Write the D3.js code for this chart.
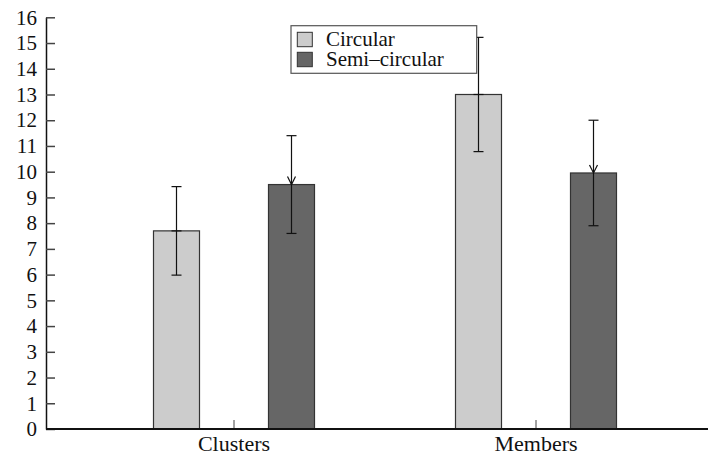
<!DOCTYPE html>
<html>
<head>
<meta charset="utf-8">
<script src="https://cdn.jsdelivr.net/npm/d3@7"></script>
</head>
<body style="margin:0; background:#fff">
<svg id="chart" width="708" height="458"></svg>
<script>
var categories = ["Clusters", "Members"];
var series = ["Circular", "Semi\u2013circular"];
var circularValues = [7.7, 13.0];
var semiValues = [9.5, 9.95];
var circularErrors = [1.72, 2.22];
var semiErrors = [1.9, 2.05];
var yTicks = d3.range(0, 17);
var colors = ["#cccccc", "#666666"];

var WIDTH = 708, HEIGHT = 458, FONT = "Liberation Serif",
    MARGINS = { top: 17.3, right: 0, bottom: 29, left: 46 };

var vis = d3.select("#chart");

var xScale = d3.scaleBand().domain(categories).range([83, 687]);
var subScale = d3.scalePoint().domain(series).range([-57.5, 57.5]);
var yScale = d3.scaleLinear().domain([0, 16]).range([HEIGHT - MARGINS.bottom, MARGINS.top]);
var barW = 46;

var data = [];
categories.forEach(function(c, i) {
    data.push({ cat: c, s: series[0], v: circularValues[i], e: circularErrors[i], k: 0 });
    data.push({ cat: c, s: series[1], v: semiValues[i], e: semiErrors[i], k: 1 });
});
function cx(d) { return xScale(d.cat) + xScale.bandwidth() / 2 + subScale(d.s); }

// bars
vis.selectAll(".bar")
   .data(data)
   .enter().append("rect")
   .attr("x", function(d) { return cx(d) - barW / 2; })
   .attr("y", function(d) { return yScale(d.v); })
   .attr("width", barW)
   .attr("height", function(d) { return yScale(0) - yScale(d.v); })
   .attr("fill", function(d) { return colors[d.k]; })
   .attr("stroke", "#333")
   .attr("stroke-width", 1.2);

// error bars
var eb = vis.selectAll(".err").data(data).enter().append("g")
   .attr("stroke", "#111").attr("stroke-width", 1.2).attr("fill", "none");
eb.append("line")
  .attr("x1", cx).attr("x2", cx)
  .attr("y1", function(d) { return yScale(d.v + d.e); })
  .attr("y2", function(d) { return yScale(d.v - d.e); });
eb.append("line")
  .attr("x1", function(d) { return cx(d) - 5; }).attr("x2", function(d) { return cx(d) + 5; })
  .attr("y1", function(d) { return yScale(d.v + d.e); })
  .attr("y2", function(d) { return yScale(d.v + d.e); });
eb.append("line")
  .attr("x1", function(d) { return cx(d) - 5; }).attr("x2", function(d) { return cx(d) + 5; })
  .attr("y1", function(d) { return yScale(d.v - d.e); })
  .attr("y2", function(d) { return yScale(d.v - d.e); });
eb.append("path")
  .attr("d", function(d) {
      var x = cx(d), y = yScale(d.v);
      if (d.k === 1) return "M" + (x - 4) + "," + (y - 8) + "L" + x + "," + y + "L" + (x + 4) + "," + (y - 8);
      return "M" + (x - 5) + "," + y + "L" + (x + 5) + "," + y;
  });

// y axis, ticks pointing inward
var yAxis = vis.append("g")
   .attr("transform", "translate(" + MARGINS.left + ",0)")
   .call(d3.axisLeft(yScale).tickValues(yTicks).tickSizeInner(-9).tickSizeOuter(0).tickPadding(9));
yAxis.attr("font-family", FONT).attr("font-size", 21);
yAxis.select(".domain").attr("stroke", "#111").attr("stroke-width", 1.5);
yAxis.selectAll(".tick line").attr("stroke", "#444").attr("stroke-width", 1.5);
yAxis.selectAll(".tick text").attr("fill", "#111")
     .attr("font-family", FONT).attr("font-size", 21);

// x axis, ticks pointing inward
var xAxis = vis.append("g")
   .attr("transform", "translate(0," + yScale(0) + ")")
   .call(d3.axisBottom(xScale).tickSizeInner(-9).tickSizeOuter(0).tickPadding(6));
xAxis.attr("font-family", FONT).attr("font-size", 22);
xAxis.select(".domain").remove();
xAxis.selectAll(".tick line").attr("stroke", "#444").attr("stroke-width", 1);
xAxis.selectAll(".tick text").attr("fill", "#111")
     .attr("font-family", FONT).attr("font-size", 22);
vis.append("line")
   .attr("x1", MARGINS.left).attr("x2", WIDTH)
   .attr("y1", yScale(0)).attr("y2", yScale(0))
   .attr("stroke", "#111").attr("stroke-width", 2);

// legend, drawn over the error bar like the reference
var legend = vis.append("g").attr("transform", "translate(291,25.7)");
legend.append("rect")
   .attr("width", 185.7).attr("height", 47.6)
   .attr("fill", "#fff").attr("stroke", "#555").attr("stroke-width", 1.2);
var li = legend.selectAll(".item").data(series).enter().append("g")
   .attr("transform", function(d, i) { return "translate(0," + (i * 20) + ")"; });
li.append("rect")
  .attr("x", 6.3).attr("y", 6.6).attr("width", 15).attr("height", 14.4)
  .attr("fill", function(d, i) { return colors[i]; })
  .attr("stroke", "#333").attr("stroke-width", 1);
li.append("text")
  .attr("x", 35).attr("y", 20.5)
  .attr("font-family", FONT).attr("font-size", 21).attr("fill", "#111")
  .text(function(d) { return d; });
</script>
</body>
</html>
